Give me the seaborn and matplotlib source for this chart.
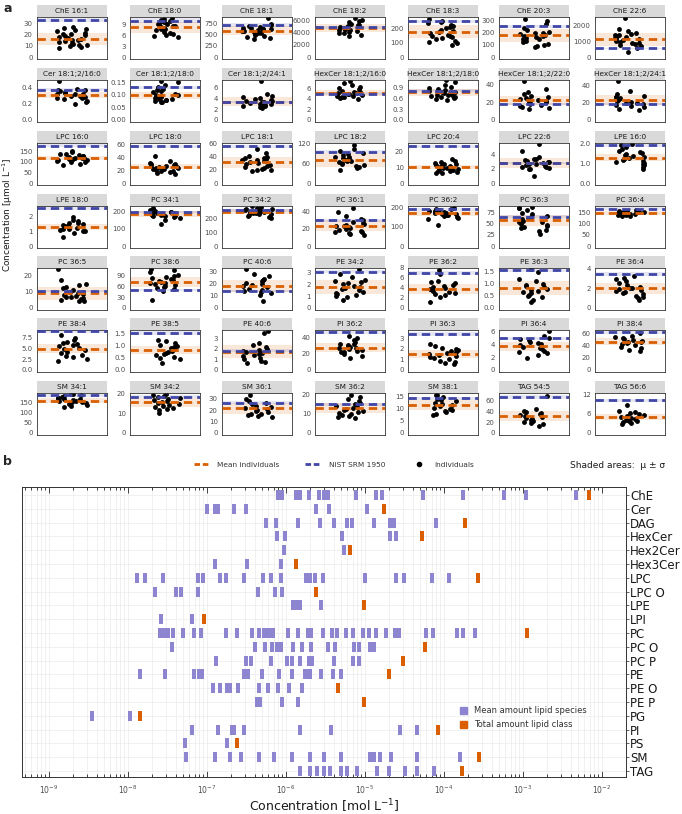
import numpy as np
import pandas as pd
import matplotlib
matplotlib.use("Agg")
import matplotlib.pyplot as plt
import seaborn as sns
from matplotlib.patches import Rectangle, Patch
from matplotlib.lines import Line2D
from matplotlib.ticker import FixedLocator, LogFormatterMathtext, NullFormatter

# ---------------- panel a data (umol/L) ----------------
species = ["ChE 16:1", "ChE 18:0", "ChE 18:1", "ChE 18:2", "ChE 18:3", "ChE 20:3", "ChE 22:6",
           "Cer 18:1;2/16:0", "Cer 18:1;2/18:0", "Cer 18:1;2/24:1", "HexCer 18:1;2/16:0",
           "HexCer 18:1;2/18:0", "HexCer 18:1;2/22:0", "HexCer 18:1;2/24:1",
           "LPC 16:0", "LPC 18:0", "LPC 18:1", "LPC 18:2", "LPC 20:4", "LPC 22:6", "LPE 16:0",
           "LPE 18:0", "PC 34:1", "PC 34:2", "PC 36:1", "PC 36:2", "PC 36:3", "PC 36:4",
           "PC 36:5", "PC 38:6", "PC 40:6", "PE 34:2", "PE 36:2", "PE 36:3", "PE 36:4",
           "PE 38:4", "PE 38:5", "PE 40:6", "PI 36:2", "PI 36:3", "PI 36:4", "PI 38:4",
           "SM 34:1", "SM 34:2", "SM 36:1", "SM 36:2", "SM 38:1", "TAG 54:5", "TAG 56:6"]

mean_ind = [16.5, 8.2, 590, 4800, 178, 178, 1100,
            0.31, 0.098, 3.4, 5.1, 0.76, 22, 23,
            118, 25, 31, 70, 10, 2.8, 1.27,
            1.3, 183, 248, 24, 172, 58, 148,
            9, 72, 18, 1.8, 3.9, 0.82, 2.0,
            4.9, 0.82, 1.75, 28, 1.5, 3.7, 46,
            158, 15.7, 21.5, 13, 11.5, 32, 5.0]
sd_ind = [5.5, 1.5, 100, 600, 45, 55, 400,
          0.04, 0.013, 0.8, 0.6, 0.09, 5, 6,
          11, 4, 8.5, 20, 1.5, 0.7, 0.18,
          0.2, 17, 17, 6, 14, 12, 10,
          4, 13, 5, 0.6, 1.0, 0.3, 0.6,
          1.05, 0.17, 0.65, 6, 0.4, 0.7, 6,
          11, 2.2, 4.5, 2.5, 2.0, 10, 1.0]
nist = [33.5, 10.0, 720, 4900, 250, 255, 550,
        0.38, 0.13, 3.4, 5.0, 0.80, 18, 18,
        178, 57, 55, 95, 23, 2.8, 1.88,
        2.6, 195, 260, 30, 193, 66, 168,
        10.5, 50, 14, 3.1, 7.0, 1.57, 3.5,
        9.0, 1.53, 1.85, 47, 3.4, 4.9, 62,
        183, 18.5, 26.5, 15, 14.3, 68, 10.2]
sd_nist = [2.0, 0.6, 40, 250, 12, 12, 40,
           0.015, 0.006, 0.2, 0.25, 0.04, 1.2, 1.2,
           8, 2.5, 2.5, 5, 1.0, 0.15, 0.08,
           0.12, 8, 10, 1.5, 8, 3, 6,
           0.6, 3, 1.0, 0.15, 0.35, 0.07, 0.17,
           0.4, 0.07, 0.1, 2.2, 0.17, 0.25, 3,
           8, 0.8, 1.2, 0.7, 0.6, 3.5, 0.5]
y_top = [36, 11, 900, 6600, 280, 330, 2500,
         0.5, 0.16, 7.4, 7.6, 1.1, 45, 46,
         190, 62, 60, 122, 25, 5.6, 2.0,
         2.75, 230, 290, 47, 210, 90, 180,
         24.5, 110, 33, 3.4, 8.0, 1.65, 4.1,
         9.3, 1.65, 3.8, 50, 3.8, 6.2, 65,
         195, 20.5, 35, 21, 16.5, 75, 12.5]
y_ticks = [[0, 10, 20, 30], [0, 3, 6, 9], [0, 250, 500, 750], [0, 2000, 4000, 6000],
           [0, 100, 200], [0, 100, 200, 300], [0, 1000, 2000],
           [0.0, 0.2, 0.4], [0.00, 0.05, 0.10, 0.15], [0, 2, 4, 6], [0, 2, 4, 6],
           [0.0, 0.3, 0.6, 0.9], [0, 20, 40], [0, 20, 40],
           [0, 50, 100, 150], [0, 20, 40, 60], [0, 20, 40, 60], [0, 60, 120], [0, 10, 20],
           [0, 2, 4], [0.0, 1.0, 2.0],
           [0, 1, 2], [0, 100, 200], [0, 100, 200], [0, 20, 40], [0, 100, 200],
           [0, 25, 50, 75], [0, 50, 100, 150],
           [0, 10, 20], [0, 30, 60, 90], [0, 10, 20, 30], [0, 1, 2, 3], [0, 2, 4, 6, 8],
           [0.0, 0.5, 1.0, 1.5], [0, 2, 4],
           [0.0, 2.5, 5.0, 7.5], [0.0, 0.5, 1.0, 1.5], [0, 1, 2, 3], [0, 20, 40],
           [0, 1, 2, 3], [0, 2, 4, 6], [0, 20, 40, 60],
           [0, 50, 100, 150], [0, 10, 20], [0, 10, 20, 30], [0, 10, 20], [0, 5, 10, 15],
           [0, 20, 40, 60], [0, 6, 12]]
tick_fmt = ["{:.0f}"] * 7 + ["{:.1f}", "{:.2f}", "{:.0f}", "{:.0f}", "{:.1f}", "{:.0f}", "{:.0f}"] \
    + ["{:.0f}"] * 6 + ["{:.1f}"] + ["{:.0f}"] * 12 + ["{:.1f}", "{:.0f}"] \
    + ["{:.1f}", "{:.1f}"] + ["{:.0f}"] * 12

individuals = [
    [8, 9, 10, 10.5, 11, 12, 13, 13.5, 14, 15, 15.5, 16, 17, 18, 19, 20, 20.5, 21, 22, 23, 24, 25, 26, 27],
    [5.5, 5.8, 6.0, 6.3, 6.6, 7.0, 7.3, 7.6, 7.8, 8.0, 8.2, 8.4, 8.6, 8.8, 9.0, 9.2, 9.5, 9.7, 9.9, 10.2, 10.5, 10.8],
    [400, 420, 450, 480, 500, 520, 540, 550, 560, 575, 590, 600, 610, 620, 630, 640, 650, 660, 680, 700, 720, 750, 880],
    [3500, 3700, 3900, 4000, 4200, 4300, 4400, 4500, 4600, 4700, 4800, 4900, 5000, 5100, 5200, 5300, 5500, 5700, 5900, 6100, 6500],
    [85, 95, 105, 115, 125, 130, 140, 145, 150, 155, 165, 175, 185, 190, 200, 210, 220, 225, 235, 245, 255, 265],
    [85, 90, 100, 110, 125, 135, 145, 150, 160, 165, 170, 175, 180, 190, 195, 200, 210, 225, 240, 270, 295, 310],
    [300, 550, 700, 750, 800, 850, 900, 950, 1000, 1050, 1100, 1150, 1200, 1250, 1300, 1350, 1400, 1450, 1500, 1600, 1750, 2450],
    [0.20, 0.22, 0.24, 0.26, 0.27, 0.28, 0.29, 0.30, 0.30, 0.31, 0.32, 0.33, 0.33, 0.34, 0.35, 0.36, 0.37, 0.38, 0.39, 0.49],
    [0.07, 0.072, 0.075, 0.078, 0.08, 0.083, 0.085, 0.088, 0.09, 0.093, 0.095, 0.098, 0.10, 0.105, 0.11, 0.115, 0.12, 0.125, 0.13, 0.14, 0.15, 0.155],
    [2.3, 2.4, 2.5, 2.6, 2.8, 2.9, 3.0, 3.1, 3.2, 3.3, 3.4, 3.5, 3.6, 3.7, 3.9, 4.0, 4.2, 4.5, 4.8, 7.2],
    [3.9, 4.1, 4.3, 4.4, 4.5, 4.6, 4.8, 4.9, 5.0, 5.1, 5.2, 5.3, 5.4, 5.6, 5.8, 6.0, 6.3, 6.6, 7.0, 7.5],
    [0.55, 0.58, 0.60, 0.62, 0.63, 0.65, 0.66, 0.68, 0.70, 0.72, 0.74, 0.76, 0.78, 0.80, 0.82, 0.85, 0.88, 0.92, 0.97, 1.05, 1.10],
    [12, 14, 15, 16, 17, 18, 19, 20, 20.5, 21, 22, 23, 24, 25, 26, 27, 29, 31, 35, 44],
    [11, 13, 15, 16, 17, 18, 19, 20, 21, 22, 23, 24, 25, 26, 27, 28, 30, 33, 45],
    [85, 92, 98, 102, 105, 108, 110, 112, 115, 117, 119, 121, 123, 125, 127, 130, 133, 136, 140, 145, 150],
    [14, 16, 17, 18, 19, 20, 21, 22, 23, 24, 25, 25.5, 26, 27, 28, 29, 30, 31, 34, 42],
    [18, 19, 20, 21, 22, 24, 26, 27, 28, 30, 31, 33, 34, 35, 36, 37, 38, 39, 40, 45, 51],
    [40, 45, 48, 52, 55, 58, 60, 63, 66, 68, 70, 72, 75, 78, 80, 84, 88, 92, 98, 105, 115],
    [6, 6.5, 7, 7.3, 7.6, 8, 8.4, 8.8, 9.2, 9.6, 10, 10.4, 10.8, 11.2, 11.6, 12, 12.5, 13, 14, 15],
    [1.0, 1.9, 2.0, 2.1, 2.2, 2.3, 2.4, 2.5, 2.6, 2.7, 2.8, 2.9, 3.0, 3.1, 3.2, 3.3, 3.4, 3.6, 4.5, 5.4],
    [0.7, 0.8, 0.9, 0.95, 1.0, 1.05, 1.1, 1.15, 1.2, 1.25, 1.3, 1.35, 1.4, 1.45, 1.5, 1.55, 1.6, 1.7, 1.8, 1.9, 1.95],
    [0.65, 0.9, 1.0, 1.05, 1.1, 1.15, 1.2, 1.25, 1.3, 1.35, 1.4, 1.45, 1.5, 1.55, 1.6, 1.7, 1.8, 2.0],
    [125, 150, 160, 165, 170, 172, 175, 178, 180, 183, 185, 188, 190, 193, 195, 198, 200, 205, 210, 220],
    [200, 210, 220, 225, 230, 235, 238, 240, 243, 246, 249, 252, 255, 258, 262, 265, 270, 275, 280, 290],
    [13, 14, 15, 16, 17, 18, 19, 20, 21, 22, 23, 24, 25, 26, 27, 28, 30, 32, 35, 40, 45],
    [108, 140, 148, 152, 158, 162, 165, 168, 170, 172, 175, 178, 180, 183, 186, 190, 193, 196, 200],
    [28, 33, 37, 40, 42, 45, 48, 50, 53, 55, 57, 60, 62, 65, 68, 72, 75, 80, 85, 86, 88],
    [135, 137, 139, 140, 142, 143, 145, 146, 148, 149, 150, 152, 153, 155, 157, 158, 160],
    [4, 4.5, 5, 5.5, 6, 6.5, 7, 7.5, 8, 8.5, 9, 9.5, 10, 11, 12, 13, 14, 15, 17, 24],
    [22, 48, 52, 55, 58, 60, 62, 65, 68, 70, 72, 75, 78, 80, 82, 85, 88, 92, 98, 105, 108],
    [6, 11, 12, 13, 14, 15, 16, 17, 18, 19, 20, 21, 22, 23, 24, 26, 28, 32],
    [0.7, 0.9, 1.0, 1.1, 1.2, 1.3, 1.4, 1.5, 1.6, 1.7, 1.8, 1.9, 2.0, 2.1, 2.2, 2.3, 2.4, 2.6, 2.9, 3.3],
    [1.2, 2.3, 2.6, 2.8, 3.0, 3.3, 3.5, 3.7, 3.9, 4.1, 4.3, 4.5, 4.7, 5.0, 5.2, 5.5, 6.8, 7.6],
    [0.25, 0.35, 0.45, 0.5, 0.55, 0.6, 0.65, 0.7, 0.75, 0.8, 0.85, 0.9, 0.95, 1.0, 1.1, 1.2, 1.5, 1.6],
    [0.8, 1.0, 1.1, 1.2, 1.4, 1.5, 1.6, 1.7, 1.8, 1.9, 2.0, 2.1, 2.2, 2.4, 2.6, 2.8, 3.0, 3.1, 3.3],
    [2.0, 2.5, 3.0, 3.3, 3.6, 4.0, 4.3, 4.6, 4.9, 5.2, 5.5, 5.8, 6.0, 6.3, 6.6, 7.0, 7.5, 8.2],
    [0.3, 0.45, 0.5, 0.55, 0.6, 0.65, 0.7, 0.75, 0.8, 0.85, 0.9, 0.95, 1.0, 1.05, 1.1, 1.2, 1.25],
    [0.7, 0.8, 0.9, 1.0, 1.1, 1.3, 1.4, 1.5, 1.6, 1.7, 1.8, 1.9, 2.0, 2.2, 2.4, 2.6, 3.5, 3.7],
    [15, 18, 20, 22, 23, 24, 25, 26, 27, 28, 29, 30, 31, 32, 33, 35, 37, 40, 42],
    [0.55, 0.7, 0.8, 0.9, 1.0, 1.1, 1.2, 1.3, 1.4, 1.5, 1.6, 1.7, 1.8, 1.9, 2.0, 2.1, 2.3, 2.5],
    [1.9, 2.3, 2.6, 2.8, 3.0, 3.2, 3.4, 3.6, 3.8, 4.0, 4.2, 4.4, 4.6, 4.8, 5.0, 5.2, 6.0],
    [31, 33, 35, 38, 40, 42, 44, 45, 46, 47, 48, 50, 52, 54, 56, 60],
    [125, 132, 138, 142, 146, 150, 153, 156, 158, 161, 164, 167, 170, 173, 176, 180, 185, 190, 192],
    [10.5, 12, 12.5, 13, 13.5, 14, 14.5, 15, 15.5, 16, 16.5, 17, 17.5, 18, 18.5, 19, 19.5, 20],
    [14, 15, 16, 16.5, 17, 18, 19, 20, 21, 22, 23, 24, 25, 26, 28, 30, 33],
    [8, 8.5, 9, 9.5, 10, 10.5, 11, 11.5, 12, 12.5, 13, 13.5, 14, 15, 16, 17, 18, 19, 20],
    [7.5, 8, 8.5, 9, 9.5, 10, 10.5, 11, 11.5, 12, 12.5, 13, 13.5, 14, 15, 15.5, 15.8],
    [14, 16, 18, 20, 22, 24, 26, 28, 30, 32, 34, 36, 38, 40, 42, 45, 70],
    [2.8, 3.0, 3.3, 3.6, 3.9, 4.2, 4.5, 4.8, 5.0, 5.2, 5.5, 5.8, 6.1, 6.5, 7.0, 8.8],
]

# ---------------- panel b data (mol/L) ----------------
lipid_classes = ["ChE", "Cer", "DAG", "HexCer", "Hex2Cer", "Hex3Cer", "LPC", "LPC O", "LPE", "LPI",
                 "PC", "PC O", "PC P", "PE", "PE O", "PE P", "PG", "PI", "PS", "SM", "TAG"]
species_conc = [
    [8.0e-7, 9.0e-7, 1.33e-6, 1.5e-6, 1.95e-6, 2.6e-6, 3.0e-6, 3.4e-6, 7.8e-6, 1.38e-5, 1.66e-5,
     5.5e-5, 1.75e-4, 5.8e-4, 1.08e-3, 4.7e-3],
    [9.9e-8, 1.26e-7, 1.38e-7, 2.2e-7, 3.1e-7, 2.4e-6, 3.5e-6, 1.06e-5],
    [5.6e-7, 7.5e-7, 1.43e-6, 2.7e-6, 4.0e-6, 5.9e-6, 6.9e-6, 1.31e-5, 2.1e-5, 2.3e-5, 7.9e-5],
    [7.6e-7, 9.7e-7, 5.1e-6, 2.1e-5, 2.5e-5],
    [9.4e-7, 5.4e-6],
    [1.26e-7, 3.2e-7, 8.7e-7],
    [1.31e-8, 1.66e-8, 2.75e-8, 7.8e-8, 9.0e-8, 1.46e-7, 1.73e-7, 2.9e-7, 5.1e-7, 6.4e-7, 8.7e-7,
     1.8e-6, 2.0e-6, 2.35e-6, 2.97e-6, 9.9e-6, 2.5e-5, 3.1e-5, 7.0e-5, 1.17e-4],
    [2.2e-8, 4.05e-8, 4.7e-8, 7.8e-8, 4.4e-7, 7.2e-7, 9.0e-7],
    [1.23e-6, 1.36e-6, 1.5e-6, 2.8e-6],
    [2.6e-8, 6.5e-8],
    [2.56e-8, 2.88e-8, 3.24e-8, 3.68e-8, 5.0e-8, 6.8e-8, 8.4e-8, 1.74e-7, 2.4e-7, 3.7e-7, 4.5e-7,
     5.2e-7, 5.7e-7, 6.3e-7, 6.9e-7, 1.07e-6, 1.43e-6, 1.91e-6, 2.1e-6, 2.9e-6, 3.8e-6, 4.4e-6,
     5.7e-6, 7.1e-6, 9.4e-6, 1.13e-5, 1.37e-5, 1.83e-5, 2.4e-5, 2.7e-5, 5.9e-5, 7.3e-5, 1.47e-4,
     1.73e-4, 2.5e-4],
    [3.6e-8, 4.1e-7, 5.5e-7, 6.6e-7, 7.6e-7, 8.6e-7, 1.22e-6, 1.61e-6, 2.07e-6, 3.4e-6, 4.2e-6,
     7.3e-6, 8.4e-6, 1.15e-5, 1.3e-5],
    [1.3e-7, 3.1e-7, 3.6e-7, 6.5e-7, 1.02e-6, 1.18e-6, 1.5e-6, 1.95e-6, 2.15e-6, 4.1e-6, 7.1e-6, 8.4e-6],
    [1.43e-8, 2.9e-8, 6.8e-8, 7.9e-8, 8.7e-8, 2.9e-7, 3.3e-7, 5.0e-7, 8.2e-7, 1.2e-6, 1.75e-6,
     1.8e-6, 2.0e-6, 2.8e-6, 3.9e-6, 4.9e-6],
    [1.18e-7, 1.47e-7, 1.78e-7, 1.95e-7, 2.5e-7, 4.6e-7, 6.0e-7, 8.0e-7, 1.1e-6, 1.6e-6],
    [4.3e-7, 4.7e-7, 9.0e-7, 1.4e-6],
    [3.5e-9, 1.06e-8],
    [6.5e-8, 1.39e-7, 2.05e-7, 2.2e-7, 2.9e-7, 1.5e-6, 3.7e-6, 2.8e-5, 4.6e-5],
    [5.2e-8, 1.8e-7],
    [5.5e-8, 1.27e-7, 1.95e-7, 2.7e-7, 4.5e-7, 7.0e-7, 1.2e-6, 2.0e-6, 3.0e-6, 5.0e-6, 1.15e-5,
     1.3e-5, 1.57e-5, 2.15e-5, 4.5e-5, 1.58e-4],
    [1.5e-6, 2.0e-6, 2.5e-6, 3.0e-6, 3.6e-6, 5.0e-6, 6.0e-6, 8.0e-6, 1.4e-5, 2.0e-5, 3.2e-5,
     4.5e-5, 7.5e-5],
]
class_total = [6.9e-3, 1.75e-5, 1.85e-4, 5.3e-5, 6.4e-6, 1.33e-6, 2.7e-4, 2.4e-6, 9.6e-6, 9.2e-8,
               1.12e-3, 5.8e-5, 3.05e-5, 2.0e-5, 4.5e-6, 9.6e-6, 1.42e-8, 8.5e-5, 2.4e-7, 2.8e-4, 1.7e-4]
decades = [1e-9, 1e-8, 1e-7, 1e-6, 1e-5, 1e-4, 1e-3, 1e-2]

ORANGE = "#D95F02"
BLUE = "#3F46A6"
PURPLE = "#8E85D0"
TXT = "#4D4D4D"

sns.set_style("white")
plt.rcParams["font.family"] = ["DejaVu Sans"]
fig = plt.figure(figsize=(6.82, 8.14), dpi=100)
W, H = 682.0, 814.0

col_left = [37, 130, 222, 315, 408, 499, 595]
row_top = [17, 80, 143, 206, 268, 330, 393]
pw, ph, hh = 70, 42, 12

np.random.seed(7)
for i, name in enumerate(species):
    r, c = divmod(i, 7)
    ax = fig.add_axes([col_left[c] / W, 1 - (row_top[r] + ph) / H, pw / W, ph / H])
    ax.axhspan(mean_ind[i] - sd_ind[i], mean_ind[i] + sd_ind[i], color=ORANGE, alpha=0.15, lw=0, zorder=0)
    ax.axhspan(nist[i] - sd_nist[i], nist[i] + sd_nist[i], color=BLUE, alpha=0.13, lw=0, zorder=0)
    sns.stripplot(y=individuals[i], ax=ax, color="black", size=3.5, jitter=0.22, linewidth=0, zorder=2)
    ax.axhline(mean_ind[i], color=ORANGE, lw=2.0, dashes=(3, 1.8), zorder=3)
    ax.axhline(nist[i], color=BLUE, lw=2.0, dashes=(3, 1.8), zorder=3)
    ax.set_xlim(-0.5, 0.5)
    ax.set_ylim(-0.05 * y_top[i], y_top[i])
    ax.set_yticks(y_ticks[i])
    ax.set_yticklabels([tick_fmt[i].format(t) for t in y_ticks[i]])
    ax.set_xticks([])
    ax.set_xlabel("")
    ax.set_ylabel("")
    ax.tick_params(axis="y", labelsize=5, colors="#333333", labelcolor=TXT, length=2, width=0.5, pad=1)
    for s in ax.spines.values():
        s.set_color("#333333")
        s.set_linewidth(0.6)
    ax.add_patch(Rectangle((0, 1.005), 1, hh / ph, transform=ax.transAxes, facecolor="#D9D9D9",
                           edgecolor="none", clip_on=False))
    ax.text(0.5, 1.005 + hh / ph / 2, name, transform=ax.transAxes, ha="center", va="center",
            fontsize=5.3, color="#1A1A1A")

fig.text(3 / W, 1 - 8 / H, "a", fontsize=9, fontweight="bold", va="center")
fig.text(8 / W, 1 - 215 / H, "Concentration [µmol L$^{-1}$]", rotation=90, fontsize=6.5,
         ha="center", va="center", color="#1A1A1A")

# legend of panel a
leg_handles = [Line2D([], [], color=ORANGE, lw=2, dashes=(2, 1)),
               Line2D([], [], color=BLUE, lw=2, dashes=(2, 1)),
               Line2D([], [], color="black", marker="o", ls="none", ms=3)]
fig.legend(leg_handles, ["Mean individuals", "NIST SRM 1950", "Individuals"], loc="center",
           bbox_to_anchor=(334 / W, 1 - 465 / H), ncol=3, frameon=False, fontsize=5.3,
           handlelength=2.2, columnspacing=3.5, handletextpad=1.0, labelcolor="#333333")
fig.text(665 / W, 1 - 465 / H, "Shaded areas:  µ ± σ", fontsize=6.5, ha="right", va="center",
         color="#1A1A1A")

# ---------------- panel b ----------------
fig.text(3 / W, 1 - 461 / H, "b", fontsize=9, fontweight="bold", va="center")
rows = []
for k, cls in enumerate(lipid_classes):
    for v in species_conc[k]:
        rows.append((k, v, "species"))
    rows.append((k, class_total[k], "total"))
df = pd.DataFrame(rows, columns=["row", "conc", "kind"])

axb = fig.add_axes([22 / W, 1 - 777 / H, 604 / W, 290 / H])
bar = [(-0.17, -0.5), (0.17, -0.5), (0.17, 0.5), (-0.17, 0.5), (-0.17, -0.5)]
sns.scatterplot(data=df[df.kind == "species"], x="conc", y="row", color=PURPLE, marker=bar, s=44,
                linewidth=0, ax=axb, zorder=3, legend=False)
sns.scatterplot(data=df[df.kind == "total"], x="conc", y="row", color=ORANGE, marker=bar, s=44,
                linewidth=0, ax=axb, zorder=4, legend=False)
axb.set_xscale("log")
xmin, xmax = 10 ** -9.342, 10 ** -1.696
axb.set_xlim(xmin, xmax)
axb.set_ylim(20.43, -0.58)
axb.set_yticks(range(len(lipid_classes)))
axb.set_yticklabels(lipid_classes)
axb.yaxis.tick_right()
minors = [m * d for d in [1e-10] + decades for m in range(2, 10) if xmin < m * d < xmax]
axb.xaxis.set_major_locator(FixedLocator(decades))
axb.xaxis.set_minor_locator(FixedLocator(minors))
axb.xaxis.set_major_formatter(LogFormatterMathtext())
axb.xaxis.set_minor_formatter(NullFormatter())
axb.tick_params(axis="x", which="both", direction="in", top=True, bottom=True, labelsize=5.5,
                labelcolor=TXT, width=0.6, pad=5)
axb.tick_params(axis="x", which="major", length=4)
axb.tick_params(axis="x", which="minor", length=2)
axb.tick_params(axis="y", labelsize=8.5, length=2, width=0.5, pad=1, labelcolor="#1A1A1A")
axb.grid(True, which="both", axis="x", color="#EBEBEB", lw=0.5)
axb.grid(True, which="major", axis="y", color="#EBEBEB", lw=0.5)
axb.set_axisbelow(True)
for s in axb.spines.values():
    s.set_color("#333333")
    s.set_linewidth(0.7)
axb.set_ylabel("")
axb.set_xlabel("Concentration [mol L$^{-1}$]", fontsize=9, color="#1A1A1A", labelpad=1)
axb.legend(handles=[Patch(color=PURPLE, label="Mean amount lipid species"),
                    Patch(color=ORANGE, label="Total amount lipid class")],
           loc="upper left", bbox_to_anchor=(0.712, 0.27), frameon=False, fontsize=6,
           handlelength=0.9, handleheight=0.9, handletextpad=0.8, labelspacing=0.6,
           labelcolor="#333333")

fig.savefig("out.png", dpi=100)
